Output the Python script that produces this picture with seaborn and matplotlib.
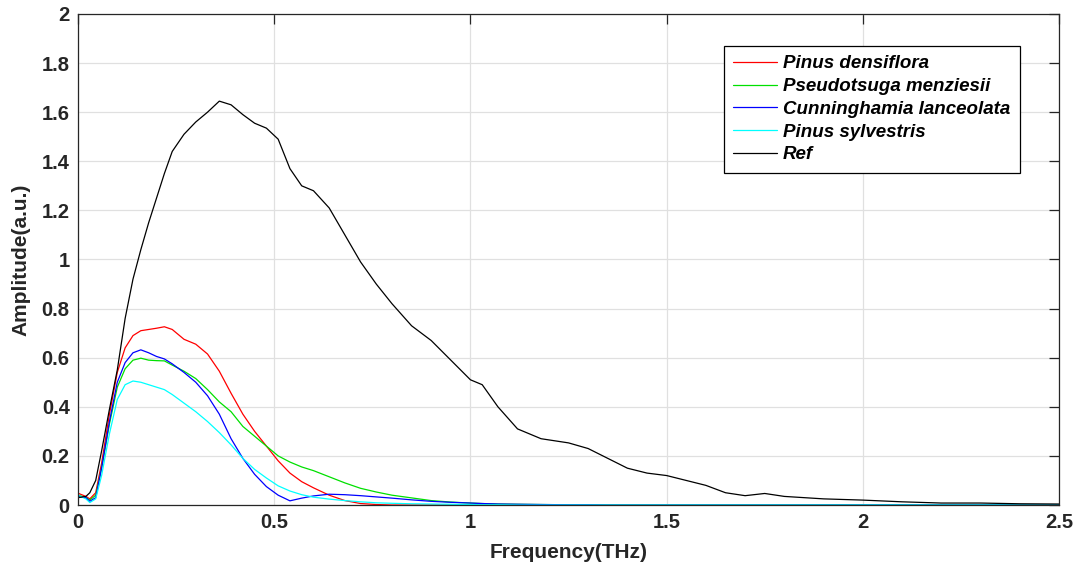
import numpy as np
import pandas as pd
import matplotlib
matplotlib.use("Agg")
import matplotlib.pyplot as plt
from matplotlib.ticker import FuncFormatter
import seaborn as sns

# frequency grid (THz)
freq = [0, 0.02, 0.03, 0.045, 0.06, 0.08, 0.1, 0.12, 0.14, 0.16, 0.18, 0.2, 0.22, 0.24,
        0.27, 0.3, 0.33, 0.36, 0.39, 0.42, 0.45, 0.48, 0.51, 0.54, 0.57, 0.6, 0.64, 0.68,
        0.72, 0.76, 0.8, 0.85, 0.9, 0.95, 1.0, 1.03, 1.07, 1.12, 1.18, 1.25, 1.3, 1.35,
        1.4, 1.45, 1.5, 1.55, 1.6, 1.65, 1.7, 1.75, 1.8, 1.9, 2.0, 2.1, 2.2, 2.3, 2.4, 2.5]

pinus_densiflora = [0.048, 0.035, 0.025, 0.05, 0.17, 0.37, 0.54, 0.64, 0.69, 0.71, 0.715, 0.72, 0.726, 0.715,
                    0.675, 0.655, 0.615, 0.545, 0.455, 0.37, 0.30, 0.24, 0.18, 0.13, 0.095, 0.07, 0.04, 0.018,
                    0.006, 0.002, 0, 0, 0, 0, 0, 0, 0, 0, 0, 0, 0, 0,
                    0, 0, 0, 0, 0, 0, 0, 0, 0, 0, 0, 0, 0, 0, 0, 0]

pseudotsuga = [0.04, 0.03, 0.02, 0.04, 0.15, 0.33, 0.48, 0.555, 0.59, 0.598, 0.59, 0.588, 0.587, 0.57,
               0.545, 0.515, 0.47, 0.42, 0.38, 0.32, 0.28, 0.24, 0.20, 0.175, 0.155, 0.14, 0.115, 0.09,
               0.068, 0.053, 0.04, 0.029, 0.018, 0.012, 0.008, 0.006, 0.004, 0.003, 0.002, 0.001, 0.001, 0,
               0, 0, 0, 0, 0, 0, 0, 0, 0, 0, 0, 0, 0, 0, 0, 0]

cunninghamia = [0.035, 0.03, 0.015, 0.03, 0.15, 0.34, 0.50, 0.58, 0.62, 0.632, 0.62, 0.605, 0.595, 0.575,
                0.54, 0.50, 0.445, 0.37, 0.27, 0.19, 0.125, 0.075, 0.04, 0.017, 0.028, 0.037, 0.044, 0.042,
                0.038, 0.033, 0.028, 0.021, 0.015, 0.011, 0.008, 0.006, 0.004, 0.003, 0.002, 0.001, 0.001, 0,
                0, 0, 0, 0, 0, 0, 0, 0, 0, 0, 0, 0, 0, 0, 0, 0]

pinus_sylvestris = [0.04, 0.025, 0.01, 0.025, 0.12, 0.29, 0.43, 0.49, 0.505, 0.50, 0.49, 0.48, 0.47, 0.45,
                    0.415, 0.38, 0.34, 0.295, 0.245, 0.19, 0.145, 0.11, 0.078, 0.057, 0.042, 0.032, 0.024, 0.018,
                    0.013, 0.009, 0.007, 0.005, 0.004, 0.003, 0.002, 0.001, 0.001, 0, 0, 0, 0, 0,
                    0, 0, 0, 0, 0, 0, 0, 0, 0, 0, 0, 0, 0, 0, 0, 0]

ref = [0.03, 0.035, 0.05, 0.10, 0.22, 0.39, 0.55, 0.76, 0.92, 1.04, 1.15, 1.25, 1.35, 1.44,
       1.51, 1.56, 1.60, 1.645, 1.63, 1.59, 1.555, 1.535, 1.49, 1.37, 1.30, 1.28, 1.21, 1.10,
       0.99, 0.90, 0.82, 0.73, 0.67, 0.59, 0.51, 0.49, 0.40, 0.31, 0.27, 0.253, 0.23, 0.19,
       0.15, 0.13, 0.12, 0.10, 0.08, 0.05, 0.038, 0.047, 0.035, 0.025, 0.02, 0.013, 0.008, 0.008, 0.005, 0.004]

names = ["Pinus densiflora", "Pseudotsuga menziesii", "Cunninghamia lanceolata", "Pinus sylvestris", "Ref"]
colors = ["#ff0000", "#00e000", "#0000ff", "#00ffff", "#000000"]

df = pd.DataFrame({"freq": freq,
                   names[0]: pinus_densiflora,
                   names[1]: pseudotsuga,
                   names[2]: cunninghamia,
                   names[3]: pinus_sylvestris,
                   names[4]: ref})
long = df.melt(id_vars="freq", var_name="sample", value_name="amp")

sns.set_style("white")
plt.rcParams["font.family"] = ["Liberation Sans", "DejaVu Sans"]

fig = plt.figure(figsize=(10.78, 5.68), dpi=100)
ax = fig.add_axes([0.0724, 0.1109, 0.91, 0.8645])

sns.lineplot(data=long, x="freq", y="amp", hue="sample", hue_order=names,
             palette=colors, linewidth=0.9, ax=ax, sort=False)

ax.set_xlim(0, 2.5)
ax.set_ylim(0, 2)
ax.set_xticks([0, 0.5, 1, 1.5, 2, 2.5])
ax.set_yticks(np.arange(0, 2.01, 0.2))
fmt = FuncFormatter(lambda v, p: "%g" % round(v, 2))
ax.xaxis.set_major_formatter(fmt)
ax.yaxis.set_major_formatter(fmt)
ax.grid(True, color="#e0e0e0", linewidth=0.9)
ax.tick_params(direction="in", length=7, width=0.9, top=True, right=True,
               labelsize=14.5, colors="#262626", pad=6)
for lab in ax.get_xticklabels() + ax.get_yticklabels():
    lab.set_fontweight("bold")
for s in ax.spines.values():
    s.set_color("#262626")
    s.set_linewidth(0.9)

ax.set_xlabel("Frequency(THz)", fontsize=15, fontweight="bold", labelpad=8)
ax.set_ylabel("Amplitude(a.u.)", fontsize=15, fontweight="bold", labelpad=8)

leg = ax.legend(loc="upper right", bbox_to_anchor=(0.96, 0.935), borderaxespad=0,
                frameon=True, fancybox=False, edgecolor="black", framealpha=1,
                prop={"weight": "bold", "style": "italic", "size": 13.5},
                handlelength=2.3, handletextpad=0.35, labelspacing=0.3, borderpad=0.5,
                labelcolor="black")
leg.get_frame().set_linewidth(0.9)

fig.savefig("out.png", dpi=100)
